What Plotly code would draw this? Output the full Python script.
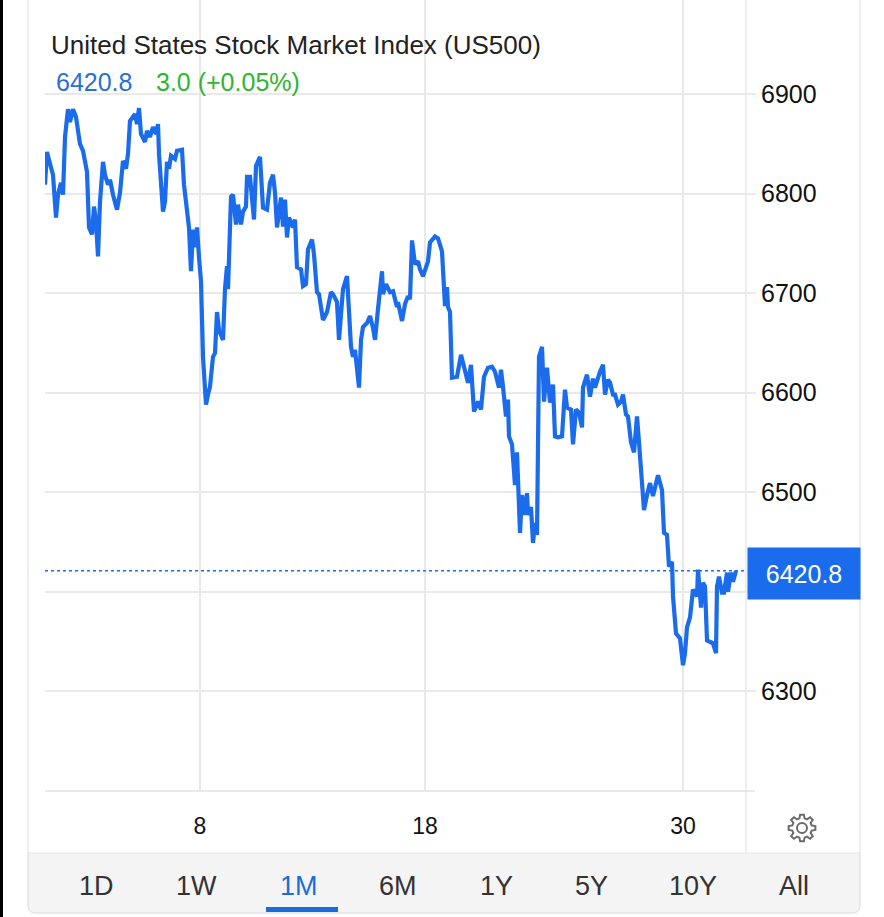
import math
import plotly.graph_objects as go

# ---------------- data ----------------
title_text = "United States Stock Market Index (US500)"
change_text = "3.0 (+0.05%)"

steps = [0, 2, 5, 8, 11, 13, 16, 18, 20, 23, 25, 28, 31, 35, 38, 42, 44, 47, 49, 51,
         53, 55, 58, 60, 63, 65, 68, 72, 75, 78, 81, 83, 85, 90, 92, 94, 96, 100, 102, 105,
         108, 111, 113, 114, 118, 120, 122, 124, 126, 130, 132, 137, 139, 142, 144, 146, 148, 150, 152, 154,
         156, 158, 161, 163, 165, 168, 170, 172, 174, 178, 180, 182, 183, 186, 188, 191, 193, 196, 198, 201,
         202, 205, 209, 211, 215, 218, 222, 225, 228, 230, 232, 236, 238, 240, 242, 244, 248, 250, 252, 256,
         258, 261, 263, 267, 269, 272, 274, 278, 282, 286, 288, 292, 294, 298, 302, 306, 308, 310, 314, 316,
         318, 322, 325, 328, 330, 333, 334, 337, 338, 341, 345, 348, 352, 353, 357, 360, 363, 365, 367, 370,
         373, 375, 378, 383, 385, 390, 393, 397, 400, 402, 403, 405, 407, 412, 416, 420, 423, 426, 429, 433,
         436, 439, 443, 447, 450, 454, 456, 458, 461, 463, 464, 467, 470, 472, 475, 477, 480, 482, 483, 486,
         488, 490, 492, 494, 497, 499, 502, 505, 508, 510, 513, 517, 520, 522, 526, 528, 531, 534, 537, 538,
         540, 542, 545, 548, 550, 552, 555, 558, 560, 563, 565, 568, 570, 573, 576, 578, 581, 583, 586, 589,
         592, 594, 597, 599, 602, 605, 608, 611, 613, 617, 619, 622, 624, 627, 628, 631, 635, 638, 640, 642,
         645, 648, 652, 653, 656, 658, 660, 662, 665, 668, 671, 672, 674, 677, 679, 682, 683, 686, 688, 691]
prices = [6809, 6842, 6830, 6819, 6776, 6799, 6811, 6799, 6857, 6885, 6872, 6885, 6877, 6850, 6843, 6822, 6766, 6759, 6787, 6772,
          6737, 6792, 6832, 6819, 6809, 6814, 6799, 6784, 6801, 6833, 6825, 6840, 6873, 6880, 6870, 6886, 6860, 6852, 6863, 6857,
          6867, 6860, 6870, 6840, 6782, 6792, 6832, 6825, 6838, 6835, 6843, 6844, 6809, 6786, 6766, 6722, 6764, 6746, 6766, 6736,
          6712, 6636, 6588, 6598, 6606, 6636, 6640, 6681, 6663, 6653, 6704, 6727, 6704, 6797, 6799, 6769, 6789, 6769, 6782, 6787,
          6817, 6817, 6774, 6828, 6837, 6786, 6784, 6811, 6819, 6801, 6766, 6796, 6767, 6794, 6756, 6776, 6766, 6774, 6726, 6724,
          6707, 6709, 6744, 6754, 6739, 6701, 6699, 6673, 6681, 6701, 6699, 6691, 6653, 6704, 6717, 6646, 6636, 6643, 6605, 6653,
          6666, 6670, 6677, 6665, 6653, 6684, 6692, 6722, 6699, 6709, 6701, 6702, 6686, 6691, 6672, 6689, 6697, 6694, 6753, 6729,
          6732, 6724, 6717, 6732, 6751, 6757, 6755, 6742, 6687, 6706, 6686, 6681, 6615, 6616, 6638, 6623, 6610, 6628, 6581, 6591,
          6583, 6616, 6625, 6626, 6621, 6605, 6623, 6606, 6576, 6593, 6556, 6548, 6507, 6540, 6459, 6497, 6477, 6499, 6477, 6485,
          6449, 6469, 6457, 6636, 6646, 6591, 6625, 6590, 6608, 6556, 6555, 6556, 6603, 6585, 6583, 6548, 6583, 6580, 6565, 6605,
          6611, 6618, 6596, 6614, 6605, 6613, 6621, 6628, 6598, 6613, 6610, 6598, 6598, 6588, 6591, 6598, 6578, 6576, 6550, 6540,
          6576, 6550, 6505, 6482, 6497, 6509, 6496, 6509, 6517, 6502, 6459, 6457, 6425, 6430, 6395, 6358, 6353, 6326, 6338, 6364,
          6374, 6402, 6395, 6422, 6384, 6409, 6405, 6351, 6349, 6348, 6338, 6405, 6415, 6399, 6399, 6419, 6400, 6419, 6410, 6420.8]

tick_steps = [155, 380, 638]
tick_labels = ["8", "18", "30"]
y_ticks = [6300, 6400, 6500, 6600, 6700, 6800, 6900]
y_tick_labels = ["6300", "", "6500", "6600", "6700", "6800", "6900"]  # 6400 sits under the price label
range_buttons = ["1D", "1W", "1M", "6M", "1Y", "5Y", "10Y", "All"]
active_button = "1M"

# ---------------- layout geometry (pixels) ----------------
W, H = 884, 917
PL, PR, PT, PB = 45, 746, 0, 791
X_RANGE = [0, 701]
Y_RANGE = [6199.5, 6994.7]

BLUE = "#1a6cec"
GRID = "#e9e9e9"
FONT = "Liberation Sans, Arial, Helvetica, sans-serif"


def px(x):
    return (x - PL) / (PR - PL)


def py(y):
    return (PB - y) / (PB - PT)


fig = go.Figure()
fig.add_trace(go.Scatter(x=steps, y=prices, mode="lines",
                         line=dict(color=BLUE, width=4.2), hoverinfo="skip",
                         showlegend=False))

shapes = []
# black edge strip
shapes.append(dict(type="rect", xref="paper", yref="paper", x0=px(0), x1=px(3), y0=py(H), y1=py(0),
                   fillcolor="black", line=dict(width=0), layer="below"))
# button bar background
bar_path = (f"M {px(28)},{py(853)} L {px(860)},{py(853)} L {px(860)},{py(905)} "
            f"Q {px(860)},{py(913)} {px(852)},{py(913)} L {px(36)},{py(913)} "
            f"Q {px(28)},{py(913)} {px(28)},{py(905)} Z")
shapes.append(dict(type="path", xref="paper", yref="paper", path=bar_path,
                   fillcolor="#f4f4f5", line=dict(color="#e6e6e6", width=1), layer="below"))
# card outline
card_path = (f"M {px(28)},{py(0)} L {px(28)},{py(905)} Q {px(28)},{py(913)} {px(36)},{py(913)} "
             f"L {px(852)},{py(913)} Q {px(860)},{py(913)} {px(860)},{py(905)} L {px(860)},{py(0)}")
shapes.append(dict(type="path", xref="paper", yref="paper", path=card_path,
                   line=dict(color="#e3e3e3", width=1.2), layer="below"))
# separator between plot and price scale
shapes.append(dict(type="line", xref="paper", yref="paper", x0=px(746), x1=px(746), y0=py(0), y1=py(853),
                   line=dict(color=GRID, width=1.5), layer="below"))
# bottom axis line
shapes.append(dict(type="line", xref="paper", yref="paper", x0=px(45), x1=px(755), y0=0, y1=0,
                   line=dict(color="#e2e2e2", width=1.5), layer="below"))
# hide left part of top gridline (behind header)
shapes.append(dict(type="line", xref="paper", yref="y", x0=px(45), x1=px(706), y0=6900, y1=6900,
                   line=dict(color="white", width=3), layer="between"))
# last price dotted line
shapes.append(dict(type="line", xref="paper", yref="y", x0=0, x1=1, y0=prices[-1], y1=prices[-1],
                   line=dict(color=BLUE, width=1.5, dash="dot")))
# active range underline
shapes.append(dict(type="rect", xref="paper", yref="paper", x0=px(266), x1=px(338), y0=py(912), y1=py(907),
                   fillcolor="#1a6cd8", line=dict(width=0)))

# gear icon
gx, gy = 802, 828
R_out, R_in = 13.5, 10.0
pts = []
for k in range(8):
    a = k * 45.0
    for r, da in ((R_in, -15), (R_out, -8), (R_out, 8), (R_in, 15)):
        ang = math.radians(a + da)
        pts.append((gx + r * math.cos(ang), gy + r * math.sin(ang)))
gear_path = "M " + " L ".join(f"{px(x)},{py(y)}" for x, y in pts) + " Z"
shapes.append(dict(type="path", xref="paper", yref="paper", path=gear_path,
                   line=dict(color="#6b6b6b", width=2)))
shapes.append(dict(type="circle", xref="paper", yref="paper", x0=px(gx - 5), x1=px(gx + 5),
                   y0=py(gy + 5), y1=py(gy - 5), line=dict(color="#6b6b6b", width=2)))

annotations = []
annotations.append(dict(xref="paper", yref="paper", x=px(49), y=py(45), xanchor="left", yanchor="middle",
                        text=title_text, showarrow=False, font=dict(family=FONT, size=26, color="#222222")))
annotations.append(dict(xref="paper", yref="paper", x=px(54), y=py(82), xanchor="left", yanchor="middle",
                        text=f"{prices[-1]:.1f}", showarrow=False, font=dict(family=FONT, size=25, color="#2a6fd6")))
annotations.append(dict(xref="paper", yref="paper", x=px(154), y=py(82), xanchor="left", yanchor="middle",
                        text=change_text, showarrow=False, font=dict(family=FONT, size=25, color="#2fb52f")))
# last price label
annotations.append(dict(xref="paper", yref="y", x=px(747), y=prices[-1], xanchor="left", yanchor="middle",
                        yshift=-3, text=f"{prices[-1]:.1f}", showarrow=False, bgcolor=BLUE,
                        width=112, height=51, borderpad=0, align="center",
                        font=dict(family=FONT, size=25, color="white")))
# range buttons
btn_x = [96, 196, 299, 398, 496, 591, 693, 794]
for name, bx in zip(range_buttons, btn_x):
    annotations.append(dict(xref="paper", yref="paper", x=px(bx), y=py(886), xanchor="center", yanchor="middle",
                            text=name, showarrow=False,
                            font=dict(family=FONT, size=27,
                                      color="#1a6cd8" if name == active_button else "#333333")))

fig.update_layout(
    width=W, height=H, autosize=False,
    margin=dict(l=PL, r=W - PR, t=PT, b=H - PB, pad=0),
    paper_bgcolor="white", plot_bgcolor="white",
    showlegend=False,
    shapes=shapes, annotations=annotations,
    xaxis=dict(range=X_RANGE, tickvals=tick_steps, ticktext=tick_labels,
               showgrid=True, gridcolor=GRID, gridwidth=1.5, zeroline=False, showline=False,
               ticks="outside", ticklen=14, tickcolor="rgba(0,0,0,0)",
               tickfont=dict(family=FONT, size=23, color="#111111"), fixedrange=True),
    yaxis=dict(range=Y_RANGE, side="right", tickvals=y_ticks,
               ticktext=y_tick_labels,
               showgrid=True, gridcolor=GRID, gridwidth=1.5, zeroline=False, showline=False,
               ticks="outside", ticklen=9, tickcolor=GRID, tickwidth=1.5,
               tickfont=dict(family=FONT, size=25, color="#111111"), fixedrange=True),
)

fig.write_html("out.html", config={"displayModeBar": False})
